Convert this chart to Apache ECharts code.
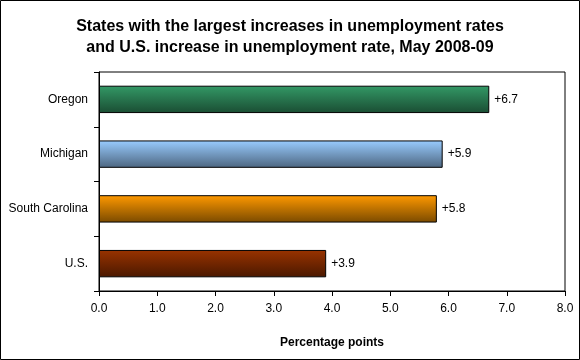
<!DOCTYPE html>
<html><head><meta charset="utf-8">
<script src="https://cdn.jsdelivr.net/npm/echarts@6/dist/echarts.min.js"></script>
<style>html,body{margin:0;padding:0;background:#fff}#c{width:580px;height:360px}</style>
</head><body><div id="c"></div>
<script>
const categories = ['Oregon', 'Michigan', 'South Carolina', 'U.S.'];
const values = [6.7, 5.9, 5.8, 3.9];
const topColors = ['#339966', '#99ccff', '#ff9900', '#993300'];
const bottomColors = ['#1a4d33', '#4d6680', '#7a4a00', '#4a1800'];
const xTicks = [0, 1, 2, 3, 4, 5, 6, 7, 8];

const chart = echarts.init(document.getElementById('c'), null, {renderer: 'canvas'});
const font = 'Arial, "Liberation Sans", sans-serif';
const data = categories.map((c, i) => ({
  value: values[i],
  itemStyle: {
    color: new echarts.graphic.LinearGradient(0, 0, 0, 1, [
      {offset: 0, color: topColors[i]},
      {offset: 1, color: bottomColors[i]}
    ]),
    borderColor: '#000', borderWidth: 1
  }
}));
chart.setOption({
  animation: false,
  backgroundColor: '#fff',
  title: {
    text: 'States with the largest increases in unemployment rates\nand U.S. increase in unemployment rate, May 2008-09',
    left: 'center', top: 11,
    textStyle: {fontFamily: font, fontSize: 16, fontWeight: 'bold', color: '#000', lineHeight: 21}
  },
  graphic: [{
    type: 'rect', shape: {x: 0.5, y: 0.5, width: 579, height: 359},
    style: {fill: 'none', stroke: '#000', lineWidth: 1}, silent: true
  }],
  grid: {left: 99, right: 15, top: 72, bottom: 69, show: true, borderColor: '#000', borderWidth: 1},
  xAxis: {
    type: 'value', min: xTicks[0], max: xTicks[xTicks.length - 1], interval: 1,
    name: 'Percentage points', nameLocation: 'middle', nameGap: 46,
    nameTextStyle: {fontFamily: font, fontSize: 12, fontWeight: 'bold', color: '#000'},
    axisLine: {show: true, lineStyle: {color: '#000', width: 1}},
    axisTick: {show: true, length: 5, lineStyle: {color: '#000'}},
    splitLine: {show: false},
    axisLabel: {fontFamily: font, fontSize: 12, color: '#000', margin: 12, formatter: v => v.toFixed(1)}
  },
  yAxis: {
    type: 'category', data: categories, inverse: true,
    axisLine: {show: true, lineStyle: {color: '#000', width: 1}},
    axisTick: {show: true, length: 5, alignWithLabel: false, lineStyle: {color: '#000'}},
    axisLabel: {fontFamily: font, fontSize: 12, color: '#000', margin: 11}
  },
  series: [{
    type: 'bar', data: data, barWidth: '50%',
    label: {
      show: true, position: 'right', distance: 5,
      fontFamily: font, fontSize: 12, color: '#000',
      formatter: p => '+' + p.value.toFixed(1)
    }
  }]
});
</script></body></html>
